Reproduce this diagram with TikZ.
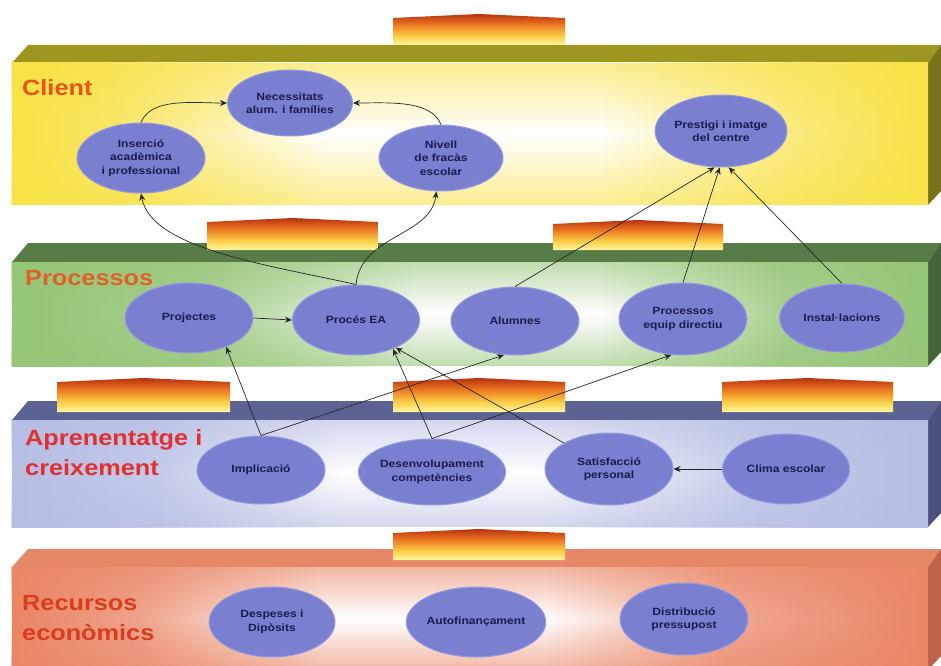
\documentclass[tikz,border=0pt]{standalone}
\usepackage{fontspec}
\setmainfont[FakeStretch=1.15]{Liberation Sans}
\usetikzlibrary{shapes.geometric,arrows.meta,fadings}
\definecolor{cyel}{RGB}{248,226,70}
\definecolor{ctop}{RGB}{158,150,30}
\definecolor{cside}{RGB}{120,115,25}
\definecolor{pgrn}{RGB}{150,198,120}
\definecolor{ptop}{RGB}{88,124,72}
\definecolor{pside}{RGB}{70,100,58}
\definecolor{alav}{RGB}{182,190,228}
\definecolor{atop}{RGB}{92,98,145}
\definecolor{aside}{RGB}{75,80,125}
\definecolor{rsal}{RGB}{234,134,102}
\definecolor{rtop}{RGB}{230,136,104}
\definecolor{rside}{RGB}{190,100,75}
\definecolor{bred}{RGB}{184,50,16}
\definecolor{borange}{RGB}{236,120,32}
\definecolor{byel}{RGB}{250,205,70}
\definecolor{bpale}{RGB}{255,246,160}
\definecolor{ellc}{RGB}{122,127,208}
\definecolor{elld}{RGB}{150,155,225}
\definecolor{etext}{RGB}{26,28,80}
\definecolor{hC}{RGB}{232,84,24}
\definecolor{hP}{RGB}{226,96,40}
\definecolor{hA}{RGB}{226,48,48}
\definecolor{hR}{RGB}{218,60,30}
\pgfdeclarehorizontalshading{shC}{100bp}{color(0bp)=(cyel); color(25bp)=(cyel); color(31bp)=(cyel!80!white); color(42bp)=(white); color(57bp)=(white); color(68bp)=(cyel!70!white); color(75bp)=(cyel); color(100bp)=(cyel)}
\pgfdeclarehorizontalshading{shP}{100bp}{color(0bp)=(pgrn); color(25bp)=(pgrn); color(35bp)=(pgrn!85!white); color(47bp)=(white); color(57bp)=(white); color(67bp)=(pgrn!80!white); color(75bp)=(pgrn); color(100bp)=(pgrn)}
\pgfdeclarehorizontalshading{shA}{100bp}{color(0bp)=(alav); color(25bp)=(alav); color(33bp)=(alav!80!white); color(43bp)=(white); color(54bp)=(white); color(66bp)=(alav!80!white); color(75bp)=(alav); color(100bp)=(alav)}
\pgfdeclarehorizontalshading{shR}{100bp}{color(0bp)=(rsal); color(25bp)=(rsal); color(32bp)=(rsal!75!white); color(42bp)=(white); color(54bp)=(white); color(64bp)=(rsal!70!white); color(75bp)=(rsal); color(100bp)=(rsal)}
\pgfdeclareverticalshading{blk}{100bp}{color(0bp)=(bpale); color(25bp)=(bpale); color(40bp)=(byel); color(58bp)=(borange); color(75bp)=(bred); color(100bp)=(bred)}
\tikzfading[name=vedge, top color=transparent!0, bottom color=transparent!0, middle color=transparent!100]
\newcommand\slabdraw[7]{%
  \fill[#6] (12,#2) -- (28,#1) -- (941,#1) -- (928,#2) -- cycle;
  \fill[#7] (928,#2) -- (941,#1) -- (941,{#3+14}) -- (928,#3) -- cycle;
  \shade[shading=#4] (12,#3) rectangle (928,#2);
  \fill[#5, path fading=vedge, fill opacity=0.6] (12,#3) rectangle (928,#2);
}
\newcommand\blockdraw[4]{%
  \shade[shading=blk] (#1,#4) -- (#1,{#3-4}) -- ({(#1+#2)/2},#3) -- (#2,{#3-4}) -- (#2,#4) -- cycle;
}
\begin{document}
\begin{tikzpicture}[x=1pt,y=1pt,
  ell/.style={ellipse, fill=ellc, draw=elld, line width=1pt, minimum width=127pt, minimum height=70pt, inner sep=0pt, align=center, text=etext, font=\fontsize{10.5}{13.5}\selectfont\bfseries},
  head/.style={anchor=base west, inner sep=0pt, font=\fontsize{22}{26}\selectfont\bfseries},
  con/.style={draw=black!85, line width=0.7pt, -{Stealth[length=7pt,width=6pt]}}]
\useasboundingbox (0,0) rectangle (941,665);
\clip (0,0) rectangle (941,665);
\fill[white] (0,0) rectangle (941,665);
% slabs
\slabdraw{620}{602}{460}{shC}{cyel}{ctop}{cside}
\slabdraw{422}{403}{299}{shP}{pgrn}{ptop}{pside}
\slabdraw{264}{245}{138}{shA}{alav}{atop}{aside}
\slabdraw{116}{98}{-5}{shR}{rsal}{rtop}{rside}
% bevel blocks
\blockdraw{393}{565}{651}{620}
\blockdraw{207}{378}{447}{415}
\blockdraw{553}{723}{445}{415}
\blockdraw{57}{230}{287}{253}
\blockdraw{393}{565}{287}{253}
\blockdraw{722}{893}{287}{253}
\blockdraw{393}{565}{136}{105}
% headings
\node[head, text=hC] (hc) at (22,569) {Client};
\node[head, text=hP] (hp) at (25,380) {Processos};
\node[head, text=hA] (ha1) at (25,220) {Aprenentatge i};
\node[head, text=hA] (ha2) at (25,190) {creixement};
\node[head, text=hR] (hr1) at (22,55) {Recursos};
\node[head, text=hR] (hr2) at (22,25) {econòmics};
% client
\node[ell, minimum width=125pt, minimum height=66pt] (nec) at (290,562) {Necessitats\\alum. i famílies};
\node[ell, minimum width=128pt] (ins) at (141,507) {Inserció\\acadèmica\\i professional};
\node[ell, minimum width=124pt, minimum height=66pt] (niv) at (441,507) {Nivell\\de fracàs\\escolar};
\node[ell, minimum width=128pt, minimum height=72pt] (pre) at (721,534) {Prestigi i imatge\\del centre};
% processos
\node[ell, minimum width=128pt] (proj) at (189,347) {Projectes};
\node[ell] (proc) at (356,345) {Procés EA};
\node[ell, minimum width=128pt, minimum height=68pt] (alu) at (515,344) {Alumnes};
\node[ell, minimum width=128pt, minimum height=72pt] (peq) at (683,346) {Processos\\equip directiu};
\node[ell, minimum width=125pt, minimum height=68pt] (ins2) at (842,347) {Instal·lacions};
% aprenentatge
\node[ell, minimum width=128pt, minimum height=68pt] (imp) at (261,195) {Implicació};
\node[ell, minimum width=125pt, minimum height=66pt] (des) at (432,193) {Desenvolupament\\competències};
\node[ell, minimum width=128pt, minimum height=72pt] (sat) at (609,196) {Satisfacció\\personal};
\node[ell] (cli) at (786,196) {Clima escolar};
% recursos
\node[ell, minimum width=126pt] (dsp) at (272,43) {Despeses i\\Dipòsits};
\node[ell] (aut) at (476,43) {Autofinançament};
\node[ell, minimum width=128pt, minimum height=72pt] (dis) at (684,46) {Distribució\\pressupost};
% connectors
\draw[con] (ins.north) .. controls +(10,25) and +(-35,0) .. (nec.west);
\draw[con] (niv.north) .. controls +(-10,25) and +(35,0) .. (nec.east);
\draw[con] (proc.north) .. controls +(-90,20) and +(10,-55) .. (ins.south);
\draw[con] (proc.north) .. controls +(5,50) and +(-5,-45) .. (niv.-98);
\draw[con] (alu.north) -- (pre.-100);
\draw[con] (peq.north) -- (pre.-92);
\draw[con] (ins2.north) -- (pre.-78);
\draw[con] (proj.east) -- (proc.west);
\draw[con] (imp.north) -- (proj.-38);
\draw[con] (imp.north) -- (alu.-108);
\draw[con] (des.north) -- (proc.-38);
\draw[con] (des.north) -- (peq.-108);
\draw[con] (sat.150) -- (proc.-35);
\draw[con] (cli.west) -- (sat.east);
\end{tikzpicture}
\end{document}
